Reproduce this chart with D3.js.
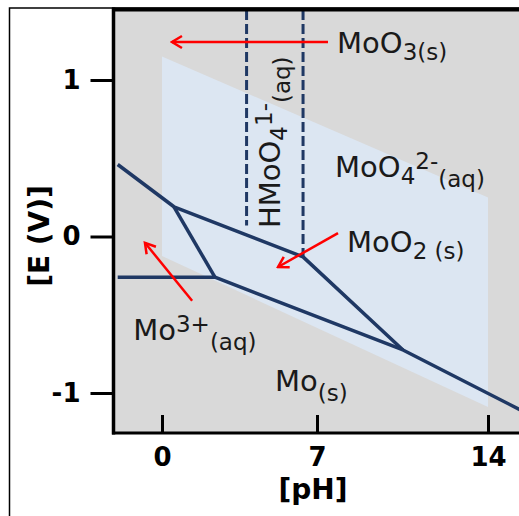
<!doctype html>
<html>
<head>
<meta charset="utf-8"/>
<title>Mo Pourbaix diagram</title>
<script src="https://d3js.org/d3.v7.min.js"></script>
<style>
body { margin:0; background:#fff; }
svg { display:block; font-family:"DejaVu Sans", Verdana, sans-serif; }
</style>
</head>
<body>
<script>
// axis ticks
const phTicks = [0, 7, 14];
const eTicks  = [-1, 0, 1];

// water stability band, [pH, E]
const bandTop    = [[0, 1.15], [14, 0.25]];
const bandBottom = [[0, -0.125], [14, -1.09]];

// solid boundary lines, [pH, E]
const upperBoundary = [[-2, 0.46], [0.54, 0.19], [6.37, -0.13], [10.52, -0.725]];
const lowerBoundary = [[-2, -0.26], [2.39, -0.26], [10.52, -0.725], [15.6, -1.13]];
const mo3Boundary   = [[0.54, 0.19], [2.39, -0.26]];

// dashed lines: pH, and E where they stop
const dashedPH  = [3.82, 6.37];
const dashedEnd = [0.07, -0.13];

// red arrows
const arrowFrom = [[7.45, 1.243], [7.86, 0.022], [1.36, -0.41]];
const arrowTo   = [[0.45, 1.243], [5.24, -0.195], [-0.77, -0.04]];

// species labels
const labelParts = [
  [["MoO","n"], ["3(s)","sub"]],
  [["MoO","n"], ["4","sub"], ["2-","sup"], ["(aq)","sub2"]],
  [["MoO","n"], ["2 (s)","sub"]],
  [["Mo","n"], ["3+","sup"], ["(aq)","sub2"]],
  [["Mo","n"], ["(s)","sub2"]],
  [["HMoO","n"], ["4","sub"], ["1-","sup"], ["(aq)","sub2"]]
];
const labelPH  = [7.82, 7.74, 8.23, -1.3, 5.1, 5.33];
const labelE   = [1.17, 0.382, -0.097, -0.661, -0.99, 0.054];
const labelRot = [0, 0, 0, 0, 0, -90];

const W = 519, H = 516;
const mLeft = 113.5, mTop = 10, mBottom = 433, mRight = 560;

const navy = "#1f3864", red = "#ff0000";

const svg = d3.select("body").append("svg").attr("width", W).attr("height", H);

// the original's pH axis is not evenly spaced, so piecewise scale
const x = d3.scaleLinear().domain([0, 7, 14]).range([162, 317, 488]);
const y = d3.scaleLinear().domain([-1, 1]).range([393, 80]);

// outer thin frame
svg.append("rect").attr("x", 9.5).attr("y", 8).attr("width", 700).attr("height", 700)
  .attr("fill", "none").attr("stroke", "#000").attr("stroke-width", 1.5);

// plot background
svg.append("rect").attr("x", mLeft).attr("y", mTop)
  .attr("width", mRight - mLeft).attr("height", mBottom - mTop)
  .attr("fill", "#d9d9d9");

// water band
const band = bandTop.concat(bandBottom.slice().reverse());
svg.append("path")
  .attr("d", d3.line().x(d => x(d[0])).y(d => y(d[1]))(band) + "Z")
  .attr("fill", "#dce6f2");

// dashed lines
svg.selectAll(".dash").data(dashedPH).enter().append("line")
  .attr("class", "dash")
  .attr("x1", d => x(d)).attr("x2", d => x(d))
  .attr("y1", mTop).attr("y2", (d, i) => y(dashedEnd[i]))
  .attr("stroke", navy).attr("stroke-width", 3)
  .attr("stroke-dasharray", "10,4");

// solid boundaries
const line = d3.line().x(d => x(d[0])).y(d => y(d[1]));
svg.selectAll(".bound").data([upperBoundary, lowerBoundary, mo3Boundary]).enter().append("path")
  .attr("class", "bound")
  .attr("d", line)
  .attr("fill", "none").attr("stroke", navy).attr("stroke-width", 3.5)
  .attr("stroke-linejoin", "round");

// arrows
svg.append("defs").append("marker")
  .attr("id", "head").attr("markerUnits", "userSpaceOnUse")
  .attr("viewBox", "-12 -8 14 16").attr("refX", 0).attr("refY", 0)
  .attr("markerWidth", 14).attr("markerHeight", 16).attr("orient", "auto")
  .append("path").attr("d", "M-10,-6 L0,0 L-10,6")
  .attr("fill", "none").attr("stroke", red).attr("stroke-width", 2.5);

svg.selectAll(".arrow").data(arrowFrom).enter().append("line")
  .attr("class", "arrow")
  .attr("x1", d => x(d[0])).attr("y1", d => y(d[1]))
  .attr("x2", (d, i) => x(arrowTo[i][0])).attr("y2", (d, i) => y(arrowTo[i][1]))
  .attr("stroke", red).attr("stroke-width", 2.5)
  .attr("marker-end", "url(#head)");

// labels
const shift = { n: 0, sub: 7, sup: -8, sub2: 10 };
labelParts.forEach((parts, i) => {
  const px = x(labelPH[i]), py = y(labelE[i]);
  const t = svg.append("text")
    .attr("transform", `translate(${px},${py}) rotate(${labelRot[i]})`)
    .attr("fill", "#1a1a1a");
  let cur = 0;
  parts.forEach(p => {
    const off = shift[p[1]];
    t.append("tspan").attr("dy", off - cur)
      .attr("font-size", p[1] === "n" ? 29 : 23)
      .text(p[0]);
    cur = off;
  });
});

// frame lines
svg.append("line").attr("x1", mLeft).attr("x2", mLeft).attr("y1", 7.5).attr("y2", mBottom + 1.5)
  .attr("stroke", "#000").attr("stroke-width", 3.5);
svg.append("line").attr("x1", mLeft - 1.5).attr("x2", W).attr("y1", 9.5).attr("y2", 9.5)
  .attr("stroke", "#000").attr("stroke-width", 4);
svg.append("line").attr("x1", mLeft - 1.5).attr("x2", W).attr("y1", mBottom).attr("y2", mBottom)
  .attr("stroke", "#000").attr("stroke-width", 3);

// axes
const yAxis = svg.append("g").attr("transform", `translate(${mLeft},0)`)
  .call(d3.axisLeft(y).tickValues(eTicks).tickSizeInner(23).tickSizeOuter(0)
    .tickPadding(10).tickFormat(d => String(d)));
const xAxis = svg.append("g").attr("transform", `translate(0,${mBottom})`)
  .call(d3.axisBottom(x).tickValues(phTicks).tickSizeInner(-18).tickSizeOuter(0)
    .tickPadding(15).tickFormat(d => String(d)));

[xAxis, yAxis].forEach(g => {
  g.select(".domain").remove();
  g.selectAll(".tick line").attr("stroke", "#000").attr("stroke-width", 3);
  g.selectAll(".tick text").attr("fill", "#000")
    .style("font-family", "'DejaVu Sans', Verdana, sans-serif")
    .style("font-size", "26px").style("font-weight", "bold");
});

// axis titles
svg.append("text").attr("x", 313).attr("y", 499)
  .attr("text-anchor", "middle").attr("font-size", 28).attr("font-weight", "bold")
  .text("[pH]");
svg.append("text").attr("transform", "translate(49,236) rotate(-90)")
  .attr("text-anchor", "middle").attr("font-size", 28).attr("font-weight", "bold")
  .text("[E (V)]");
</script>
</body>
</html>
